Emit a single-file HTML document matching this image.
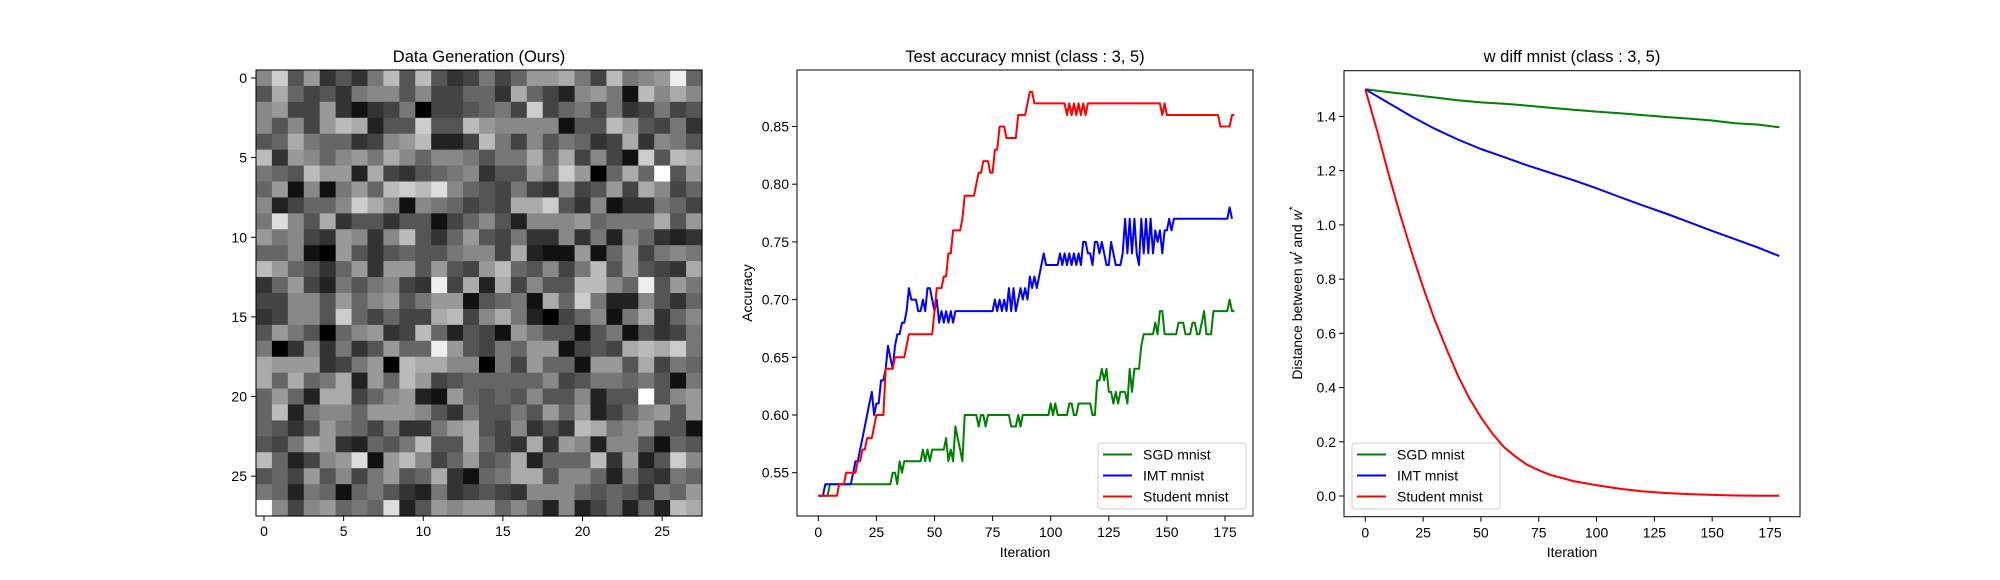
<!DOCTYPE html>
<html><head><meta charset="utf-8"><style>
body{margin:0;background:#fff;}
svg{display:block;font-family:"Liberation Sans","DejaVu Sans",sans-serif;}
</style></head><body>
<svg id="fig" width="2000" height="580" viewBox="0 0 2000 580" xmlns="http://www.w3.org/2000/svg"></svg>
<script>
// ---------- data ----------
const heatmapRows = [
"8c593537b5b53474699a74b789e6",
"5a6453788584466 3a642 8971b8a8",
"8944931347044567 4c4674734745",
"85849ba255c55b98888155b95473",
"56a7663489b224b74857634a3875",
"b3986897a8688757 7a6a4841c5ba",
"765b992a435678355 97c906a6f59",
"691817 96bcbd86547438 4594a846",
"824668ca81876454aac538133764",
"7d85a355355146852888 96777a59",
"9784398 38b536954733837286323",
"668109535655 7884a21191694787",
"b9653693995 9549b65847b59543a",
"369427578 43e4a2a4855bb86e597",
"4488596895799156 71a6c7228536",
"34885c64644ab48a72046817a368",
"5975068934b6254197551571 5347",
"70383735966e95476991454abac7",
"a99934790baa880749661995a476",
"a6a67a296b9456666684577 67517",
"6962aa468921965658558255f589",
"6b2788699985375575969246 8959",
"65359764733 79a548353ba789551",
"547a932657b55a643a3982885165",
"b62489d19b846956a2666b3925c8",
"564958479 56a3167aa5886274376",
"7627616753273454388865653769",
"f8489676d259899686282462 62ba"
].map(s=>s.replace(/ /g,''));
const heatTicks = [0,5,10,15,20,25];

const iterTicks = [0,25,50,75,100,125,150,175];
const accTicks = [0.55,0.60,0.65,0.70,0.75,0.80,0.85];
const accSGD = [53,53,53,53,53,54,54,54,54,54,54,54,54,54,54,54,54,54,54,54,54,54,54,54,54,54,54,54,54,54,54,54,55,55,54,56,55,56,56,56,56,56,56,56,56,57,56,57,56,57,57,57,57,57,57,58,56,57,56,59,58,57,56,60,60,60,60,60,60,59,60,60,59,60,60,60,60,60,60,60,60,60,60,59,59,59,60,59,60,60,60,60,60,60,60,60,60,60,60,60,61,60,61,60,60,60,60,60,61,61,60,60,61,61,61,61,61,61,60,60,63,63,64,63,64,62,62,61,62,61,62,62,62,61,64,62,64,64,64,66,67,67,67,67,67,68,67,69,69,67,67,67,67,67,67,68,68,68,67,67,67,68,68,67,67,68,69,67,67,67,69,69,69,69,69,69,69,70,69,69];
const accIMT = [53,53,53,54,54,54,54,54,54,54,54,54,54,54,54,55,56,56,57,58,59,60,61,62,60,61,61,63,63,64,66,65,64,66,67,67,68,68,69,71,70,70,70,69,69,70,69,71,71,70,69,70,68,69,68,69,68,69,68,69,69,69,69,69,69,69,69,69,69,69,69,69,69,69,69,69,70,69,70,69,70,69,71,69,71,69,70,71,70,71,70,72,71,72,71,72,73,74,73,73,73,73,73,73,74,73,74,73,74,73,74,73,74,73,75,75,74,74,73,75,75,74,75,74,73,73,75,74,73,73,73,74,77,74,77,74,77,74,73,77,74,77,74,77,74,76,75,76,74,76,76,77,76,77,77,77,77,77,77,77,77,77,77,77,77,77,77,77,77,77,77,77,77,77,77,77,77,78,77];
const accStudent = [53,53,53,53,53,53,53,53,53,54,54,54,55,55,55,55,55,56,56,57,57,58,58,58,59,60,60,60,60,64,64,64,64,65,65,65,65,65,66,67,67,67,67,67,67,67,67,67,67,67,69,71,71,71,72,72,74,74,76,76,76,76,77,79,79,79,79,79,80,81,81,82,82,82,81,81,83,83,85,85,85,84,84,84,84,84,86,86,86,86,87,88,88,87,87,87,87,87,87,87,87,87,87,87,87,87,87,86,87,86,87,86,87,86,87,86,87,87,87,87,87,87,87,87,87,87,87,87,87,87,87,87,87,87,87,87,87,87,87,87,87,87,87,87,87,87,87,87,86,87,86,86,86,86,86,86,86,86,86,86,86,86,86,86,86,86,86,86,86,86,86,86,86,85,85,85,85,85,86,86];

const distTicks = [0.0,0.2,0.4,0.6,0.8,1.0,1.2,1.4];
const distIterSGD = [0,10,20,30,40,50,60,70,80,90,100,110,120,130,140,150,160,170,179];
const distSGD = [1.50,1.49,1.48,1.47,1.46,1.452,1.447,1.44,1.432,1.425,1.418,1.412,1.405,1.398,1.392,1.385,1.375,1.37,1.36];
const distIMT = [1.50,1.45,1.40,1.355,1.315,1.28,1.25,1.22,1.192,1.165,1.135,1.103,1.072,1.042,1.01,0.978,0.947,0.916,0.885];
const distIterStudent = [0,5,10,15,20,25,30,35,40,45,50,55,60,65,70,75,80,90,100,110,120,130,140,150,160,170,179];
const distStudent = [1.50,1.35,1.19,1.04,0.90,0.77,0.65,0.545,0.445,0.36,0.29,0.23,0.18,0.145,0.115,0.095,0.078,0.055,0.04,0.027,0.017,0.011,0.007,0.004,0.002,0.001,0.001];

// ---------- helpers ----------
const NS="http://www.w3.org/2000/svg";
const svg=document.getElementById('fig');
function mk(tag,attrs,parent){const e=document.createElementNS(NS,tag);for(const k in attrs)e.setAttribute(k,attrs[k]);(parent||svg).appendChild(e);return e;}
function txt(s,x,y,anchor,size,parent,rot){const t=mk('text',{x:x,y:y,'text-anchor':anchor,'font-size':size,fill:'#000'},parent);if(rot)t.setAttribute('transform','rotate(-90 '+x+' '+y+')');t.textContent=s;return t;}

// ---------- panel 1: heatmap ----------
const hx0=256,hy0=70,hsz=446,cell=hsz/28;
const g1=mk('g',{});


heatmapRows.forEach((row,r)=>{
  for(let c=0;c<28;c++){
    const v=parseInt(row[c]||'8',16)*17;
    const rc=mk('rect',{x:hx0+c*cell,y:hy0+r*cell,width:cell+0.6,height:cell+0.6,fill:'rgb('+v+','+v+','+v+')'},g1);
    
    
  }
});
mk('rect',{x:hx0,y:hy0,width:hsz,height:hsz,fill:'none',stroke:'#000','stroke-width':1},g1);
heatTicks.forEach(t=>{
  const px=hx0+(t+0.5)*cell, py=hy0+(t+0.5)*cell;
  mk('line',{x1:px,y1:hy0+hsz,x2:px,y2:hy0+hsz+5,stroke:'#000'},g1);
  txt(String(t),px,hy0+hsz+20,'middle',14,g1);
  mk('line',{x1:hx0,y1:py,x2:hx0-5,y2:py,stroke:'#000'},g1);
  txt(String(t),hx0-9,py+5,'end',14,g1);
});
const t1=txt('Data Generation (Ours)',hx0+hsz/2,62,'middle',16.5);



// ---------- panel 2: accuracy ----------
const ax={l:797,r:1253,t:70,b:516};
const ix2=i=>818.3+i*(406.7/175);
const ay=v=>472.7-(v-0.55)*1154;
const g2=mk('g',{});


iterTicks.forEach(t=>{mk('line',{x1:ix2(t),y1:ax.b,x2:ix2(t),y2:ax.b+5,stroke:'#000'},g2);txt(String(t),ix2(t),ax.b+21,'middle',14,g2);});
accTicks.forEach(t=>{mk('line',{x1:ax.l,y1:ay(t),x2:ax.l-5,y2:ay(t),stroke:'#000'},g2);txt(t.toFixed(2),ax.l-8,ay(t)+5,'end',14,g2);});
function stepLine(arr,color,name,g,xf,yf){
  const pts=arr.map((v,i)=>xf(i).toFixed(1)+','+yf(v/100).toFixed(1)).join(' ');
  const p=mk('polyline',{points:pts,fill:'none',stroke:color,'stroke-width':2,'stroke-linejoin':'round'},g);
  
  
}
stepLine(accSGD,'#008000','sgd-accuracy-line',g2,ix2,ay);
stepLine(accIMT,'#0000ff','imt-accuracy-line',g2,ix2,ay);
stepLine(accStudent,'#ff0000','student-accuracy-line',g2,ix2,ay);
mk('rect',{x:ax.l,y:ax.t,width:ax.r-ax.l,height:ax.b-ax.t,fill:'none',stroke:'#000'},g2);
const t2=txt('Test accuracy mnist (class : 3, 5)',(ax.l+ax.r)/2,62,'middle',16.5,g2);


txt('Iteration',(ax.l+ax.r)/2,557,'middle',14,g2);
txt('Accuracy',752,293,'middle',14,g2,true);

function legend(x,y,g,name){
  const lg=mk('g',{},g);
  
  
  mk('rect',{x:x,y:y,width:148,height:66,rx:3,fill:'#fff','fill-opacity':0.8,stroke:'#ccc'},lg);
  [['SGD mnist','#008000'],['IMT mnist','#0000ff'],['Student mnist','#ff0000']].forEach((e,i)=>{
    const yy=y+11.5+i*21;
    const ent=mk('g',{},lg);
    
    
    mk('line',{x1:x+5,y1:yy,x2:x+34,y2:yy,stroke:e[1],'stroke-width':2},ent);
    txt(e[0],x+45,yy+5,'start',14,ent);
  });
}
legend(1098,443,g2,'accuracy-legend');

// ---------- panel 3: distance ----------
const bx={l:1344,r:1800,t:70.7,b:516.7};
const ix3=i=>1365.3+i*(404.7/175);
const dy=v=>496-v*271.1;
const g3=mk('g',{});


iterTicks.forEach(t=>{mk('line',{x1:ix3(t),y1:bx.b,x2:ix3(t),y2:bx.b+5,stroke:'#000'},g3);txt(String(t),ix3(t),bx.b+21,'middle',14,g3);});
distTicks.forEach(t=>{mk('line',{x1:bx.l,y1:dy(t),x2:bx.l-5,y2:dy(t),stroke:'#000'},g3);txt(t.toFixed(1),bx.l-8,dy(t)+5,'end',14,g3);});
function smoothLine(xs,ys,color,name){
  const pts=xs.map((x,i)=>ix3(x).toFixed(1)+','+dy(ys[i]).toFixed(1)).join(' ');
  const p=mk('polyline',{points:pts,fill:'none',stroke:color,'stroke-width':2,'stroke-linejoin':'round'},g3);
  
  
}
smoothLine(distIterSGD,distSGD,'#008000','sgd-distance-line');
smoothLine(distIterSGD,distIMT,'#0000ff','imt-distance-line');
smoothLine(distIterStudent,distStudent,'#ff0000','student-distance-line');
mk('rect',{x:bx.l,y:bx.t,width:bx.r-bx.l,height:bx.b-bx.t,fill:'none',stroke:'#000'},g3);
const t3=txt('w diff mnist (class : 3, 5)',(bx.l+bx.r)/2,62,'middle',16.5,g3);


txt('Iteration',(bx.l+bx.r)/2,557,'middle',14,g3);
const yl=mk('text',{x:1302,y:293,'text-anchor':'middle','font-size':14,transform:'rotate(-90 1302 293)'},g3);


yl.innerHTML='Distance between <tspan font-style="italic">w</tspan><tspan dy="-6" font-size="10" font-style="italic">t</tspan><tspan dy="6"> and </tspan><tspan font-style="italic">w</tspan><tspan dy="-6" font-size="10">*</tspan>';
legend(1352,443,g3,'distance-legend');
</script>
</body></html>
